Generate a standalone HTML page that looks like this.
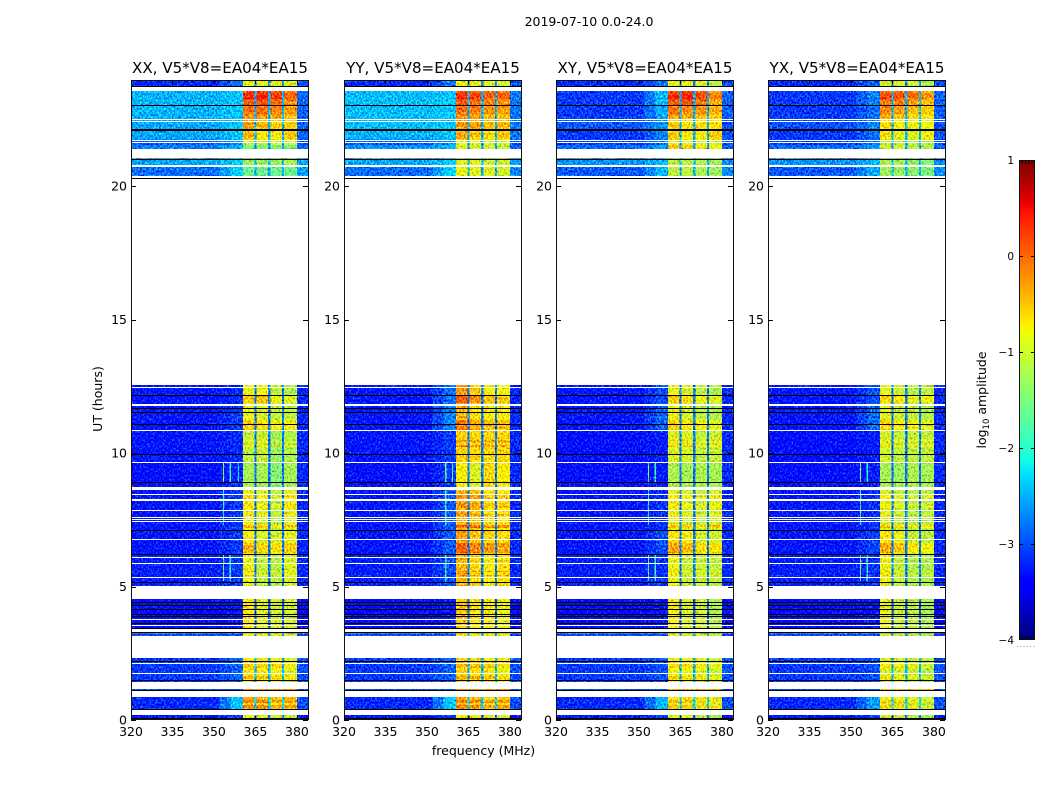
<!DOCTYPE html>
<html>
<head>
<meta charset="utf-8">
<title>2019-07-10 spectrograms</title>
<style>
html,body{margin:0;padding:0;background:#fff;}
#chart{display:block;width:1050px;height:800px;font-family:"DejaVu Sans","Liberation Sans",sans-serif;}
text{font-family:"DejaVu Sans","Liberation Sans",sans-serif;fill:#000;}
</style>
</head>
<body>
<svg id="chart" xmlns="http://www.w3.org/2000/svg" width="1050" height="800" viewBox="0 0 1050 800">
  <defs>
    <filter id="speckle" x="0" y="0" width="1" height="1" color-interpolation-filters="sRGB">
      <feTurbulence type="fractalNoise" baseFrequency="0.62 0.48" numOctaves="1" seed="7" result="n"/>
      <feColorMatrix in="n" type="matrix" values="0.5 0 0 0 0.25  1.5 0 0 0 -0.25  0.5 0 0 0 0.25  0 0 0 0 1" result="m"/>
      <feComposite in="SourceGraphic" in2="m" operator="arithmetic" k1="0" k2="1" k3="1" k4="-0.5"/>
    </filter>
  </defs>
  <text x="589" y="26" font-size="12.5" text-anchor="middle">2019-07-10 0.0-24.0</text>
  <g id="panels"></g>
  <text x="483.5" y="755" font-size="12.5" text-anchor="middle">frequency (MHz)</text>
  <text transform="translate(102,399) rotate(-90)" font-size="12.5" text-anchor="middle">UT (hours)</text>
  <g id="colorbar"></g>
  <text transform="translate(986,400) rotate(-90)" font-size="12.5" text-anchor="middle">log<tspan font-size="8.5" dy="3">10</tspan><tspan dy="-3"> amplitude</tspan></text>
</svg>
<script>
// ---- chart data (hours, MHz, log10 amplitude) ----
const panelTitles = ["XX, V5*V8=EA04*EA15","YY, V5*V8=EA04*EA15","XY, V5*V8=EA04*EA15","YX, V5*V8=EA04*EA15"];
const xTickValues = [320,335,350,365,380];
const yTickValues = [0,5,10,15,20];
const colorTickValues = [1,0,-1,-2,-3,-4];

// time segment [top hour, bottom hour]
const segmentHours = [
 [24.0,23.69],[23.56,23.02],[23.02,22.52],[22.52,22.13],[22.13,21.74],[21.74,21.54],[21.54,21.37],
 [21.03,20.73],[20.73,20.36],[12.55,11.85],[11.85,10.86],[10.86,9.66],[9.66,8.71],[8.71,7.10],
 [7.10,6.22],[6.22,5.02],[4.53,3.34],[3.24,3.15],[2.33,1.43],[1.16,1.10],[0.86,0.41],[0.20,0]
];

// per segment: background, ramp, subband 1..4, high edge
const xxLevels = [
 [-3.2,-2.8,-0.85,-0.85,-0.9,-1.0,-3.0],[-2.5,-2.4,0.15,0.2,0.05,-0.15,-2.9],[-2.5,-2.4,-0.1,-0.1,-0.2,-0.35,-2.9],
 [-2.55,-2.4,-0.35,-0.5,-0.6,-0.6,-2.9],[-2.55,-2.4,-0.5,-0.8,-0.8,-0.6,-2.9],[-2.95,-2.7,-1,-1,-1,-1,-3],
 [-2.75,-2.5,-1.5,-1.5,-1.5,-1.5,-2.9],[-2.55,-2.35,-1.3,-1.3,-1.3,-1.2,-2.6],[-2.85,-2.35,-1.6,-1.6,-1.6,-1.6,-2.6],
 [-3.3,-3.2,-0.85,-0.8,-1.1,-1.2,-3.2],[-3.3,-3.1,-0.85,-0.95,-1.1,-1.1,-3.2],[-3.3,-3.2,-1.1,-1.05,-1.3,-1.2,-3.2],
 [-3.35,-3.2,-1.25,-1.25,-1.45,-1.25,-3.2],[-3.3,-3.1,-0.85,-0.95,-1.15,-0.9,-3.2],[-3.3,-3.1,-0.75,-0.95,-1.0,-0.9,-3.2],
 [-3.25,-3.1,-0.85,-1.1,-1.15,-0.95,-3.2],[-3.4,-3.3,-0.7,-0.9,-1.0,-1.0,-3.4],[-3.0,-3.0,-0.8,-0.9,-0.9,-1,-3.1],
 [-3.1,-2.9,-0.7,-0.75,-0.8,-0.95,-3.0],[-3,-3,-0.1,-0.1,-0.1,-0.1,-3],[-3.2,-2.4,-0.35,-0.4,-0.55,-0.5,-3.0],[-3.3,-3.1,-0.9,-0.9,-1,-1.1,-3.3]
];
const yyLevels = [
 [-3.2,-2.8,-0.85,-0.85,-0.9,-1.0,-3.0],[-2.45,-2.4,0.15,0.05,-0.1,-0.15,-2.8],[-2.45,-2.4,-0.1,-0.2,-0.3,-0.35,-2.8],
 [-2.45,-2.4,-0.3,-0.4,-0.5,-0.5,-2.8],[-2.5,-2.4,-0.4,-0.6,-0.7,-0.6,-2.8],[-2.95,-2.7,-0.9,-0.9,-1,-1,-3],
 [-2.65,-2.45,-0.9,-1.0,-1.0,-1.1,-2.9],[-2.55,-2.35,-0.9,-0.9,-1.0,-1.0,-2.6],[-2.85,-2.35,-0.8,-0.9,-0.9,-1.0,-2.7],
 [-3.3,-2.85,-0.25,-0.5,-0.75,-0.8,-3.2],[-3.3,-2.75,-0.4,-0.65,-0.75,-0.75,-3.2],[-3.3,-3.1,-0.55,-0.6,-0.6,-0.6,-3.2],
 [-3.35,-3.1,-0.75,-0.95,-0.6,-0.75,-3.2],[-3.3,-2.95,-0.4,-0.5,-0.7,-0.7,-3.2],[-3.3,-2.95,-0.3,-0.5,-0.6,-0.65,-3.2],
 [-3.25,-3.0,-0.4,-0.6,-0.75,-0.65,-3.2],[-3.4,-3.3,-0.5,-0.7,-0.75,-0.85,-3.4],[-3.0,-3.0,-0.7,-0.8,-0.8,-0.9,-3.1],
 [-3.1,-2.9,-0.6,-0.65,-0.7,-0.85,-3.0],[-3,-3,-0.1,-0.1,-0.1,-0.1,-3],[-3.2,-2.4,-0.35,-0.4,-0.55,-0.5,-3.0],[-3.3,-3.1,-0.8,-0.8,-0.9,-1.0,-3.3]
];
const xyLevels = [
 [-3.2,-2.8,-0.85,-0.85,-0.9,-1.1,-3.0],[-3.1,-2.45,0.15,0.2,0.0,-0.3,-2.9],[-3.1,-2.55,-0.15,-0.25,-0.3,-0.45,-2.9],
 [-2.95,-2.65,-0.6,-0.7,-0.7,-0.7,-3.0],[-3.1,-2.75,-0.6,-0.8,-0.8,-0.6,-3.0],[-3.1,-2.85,-0.9,-0.9,-1,-1,-3],
 [-2.85,-2.6,-0.5,-0.55,-0.7,-0.8,-2.9],[-2.65,-2.45,-1.1,-1.1,-1.2,-1.3,-2.7],[-2.95,-2.5,-1.1,-1.1,-1.2,-1.3,-2.7],
 [-3.3,-3.0,-0.85,-0.95,-1.1,-1.2,-3.2],[-3.3,-2.9,-0.85,-1.0,-1.1,-1.2,-3.2],[-3.35,-3.25,-0.95,-0.95,-1.1,-1.05,-3.2],
 [-3.35,-3.25,-1.2,-1.25,-1.2,-1.25,-3.2],[-3.3,-3.15,-0.9,-1.0,-1.1,-1.0,-3.2],[-3.3,-3.0,-0.65,-0.8,-1.0,-1.0,-3.2],
 [-3.25,-3.15,-0.85,-1.05,-1.05,-1.1,-3.2],[-3.4,-3.3,-0.75,-0.95,-1.0,-1.2,-3.4],[-3.0,-3.0,-0.9,-1,-1,-1.1,-3.1],
 [-3.1,-3.0,-0.8,-0.85,-0.9,-1.05,-3.0],[-3,-3,-0.3,-0.3,-0.3,-0.3,-3],[-3.2,-2.5,-0.7,-0.7,-0.8,-0.95,-3.0],[-3.3,-3.1,-0.95,-0.95,-1.1,-1.2,-3.3]
];
const yxLevels = [
 [-3.2,-2.9,-0.95,-0.95,-1.0,-1.2,-3.0],[-3.1,-2.75,0.0,-0.05,-0.2,-0.4,-2.9],[-3.1,-2.85,-0.25,-0.35,-0.5,-0.6,-2.9],
 [-3.0,-2.75,-0.7,-0.8,-0.85,-0.9,-3.0],[-3.1,-2.85,-0.75,-0.95,-1.0,-0.85,-3.0],[-3.1,-2.85,-1.1,-1.1,-1.2,-1.2,-3],
 [-2.85,-2.6,-1.0,-1.0,-1.1,-1.2,-2.9],[-2.65,-2.45,-1.2,-1.25,-1.35,-1.45,-2.7],[-2.95,-2.55,-1.3,-1.3,-1.4,-1.5,-2.7],
 [-3.3,-3.0,-0.9,-1.0,-1.15,-1.1,-3.2],[-3.3,-2.85,-0.9,-1.05,-1.1,-1.2,-3.2],[-3.35,-3.25,-1.0,-1.1,-1.1,-1.1,-3.2],
 [-3.35,-3.25,-1.25,-1.3,-1.2,-1.25,-3.2],[-3.3,-3.15,-0.95,-1.1,-1.2,-1.15,-3.2],[-3.3,-3.05,-0.7,-0.85,-1.05,-1.15,-3.2],
 [-3.25,-3.15,-0.85,-1.1,-1.2,-1.2,-3.2],[-3.4,-3.3,-0.85,-1.05,-1.1,-1.25,-3.4],[-3.0,-3.0,-1,-1.1,-1.1,-1.2,-3.1],
 [-3.1,-3.0,-0.95,-1.0,-1.05,-1.2,-3.0],[-3,-3,-0.4,-0.4,-0.4,-0.4,-3],[-3.2,-2.6,-0.8,-0.85,-0.95,-1.15,-3.0],[-3.3,-3.1,-1.0,-1.0,-1.15,-1.3,-3.3]
];
const panelLevels = [xxLevels,yyLevels,xyLevels,yxLevels];
const dividerLevels = [-2.7,-2.5,-2.5,-2.5,-2.5,-2.6,-2.6,-2.4,-2.5,-2.8,-2.8,-2.8,-2.8,-2.8,-2.8,-2.8,-3.0,-2.6,-2.5,-2.0,-2.3,-2.9];

// brighter/dimmer rows across the subbands [top hour, bottom hour, level change]
const bandRowShifts = [
 [23.48,23.26,0.2],[23.18,23.07,-0.1],[22.96,22.77,0.1],[22.66,22.55,-0.15],[22.36,22.21,0.1],[21.99,21.84,0.15],
 [12.17,11.87,0.3],[11.24,10.86,0.3],[10.49,10.41,0.3],[10.30,10.22,0.3],[8.43,8.24,0.2],[8.13,7.94,0.2],[7.74,7.66,0.2],
 [7.30,7.20,0.45],[6.63,6.25,0.35],[5.58,5.54,0.3],[5.43,5.39,0.3],
 [2.17,1.95,0.2],[1.65,1.54,0.3],[0.75,0.64,0.25],[0.64,0.56,-0.2],[0.56,0.45,0.25]
];

// horizontal masks shared by all panels [top hour, bottom hour]
const gapHours = [
 [23.56,23.69],[22.48,22.52],[22.40,22.43],[21.70,21.74],[21.62,21.65],[21.03,21.37],[20.73,20.79],[12.55,20.36],
 [12.43,12.49],[11.77,11.85],[10.82,10.86],[9.63,9.66],[8.63,8.71],[8.44,8.48],[8.22,8.26],[7.83,7.87],[7.58,7.61],
 [7.49,7.53],[7.42,7.45],[6.74,6.78],[6.07,6.10],[5.84,5.88],[5.32,5.36],[4.53,5.02],[3.73,3.77],[3.51,3.55],
 [3.26,3.43],[2.33,3.15],[2.10,2.12],[1.73,1.75],[1.16,1.43],[0.86,1.10],[0.20,0.39]
];
const flaggedHours = [
 23.73,23.02,22.13,22.08,21.02,20.30,12.18,11.70,11.55,11.07,9.98,8.91,7.10,6.22,5.16,
 4.43,4.30,4.15,3.97,3.90,3.65,3.44,3.30,2.22,1.50,1.13,0.41,0.07
];

// narrow-band interference per panel [MHz, top hour, bottom hour, level]
const xxInterference = [[353.2,9.66,8.92,-1.4],[355.7,9.66,8.92,-1.9],[358.6,9.6,8.92,-2.2],[353.2,8.7,7.3,-2.0],[353.2,6.2,5.2,-1.6],[355.7,6.2,5.2,-1.9]];
const yyInterference = [[356.6,9.66,8.92,-1.6],[359,9.6,8.92,-1.7],[356.6,8.7,7.3,-1.8],[356.6,6.2,5.2,-1.9]];
const xyInterference = [[353.2,9.66,8.92,-1.4],[355.7,9.66,8.92,-1.9],[353.2,8.7,7.3,-1.9],[353.2,6.2,5.2,-1.6],[355.7,6.2,5.2,-1.9]];
const yxInterference = [[353.2,9.66,8.92,-1.4],[355.7,9.66,8.92,-2.0],[353.2,8.7,7.3,-1.8],[353.2,6.2,5.2,-1.6],[355.7,6.2,5.2,-2.0]];
const panelInterference = [xxInterference,yyInterference,xyInterference,yxInterference];

// band edges in MHz
const bgStart = 320, rampStart = 352, rampEnd = 356, bandStart = 360.5, bandEnd = 380, freqEnd = 384;
const subbandEdges = [[360.5,364.6],[365.4,369.6],[370.4,374.6],[375.4,380]];
const dividerEdges = [[364.6,365.4],[369.6,370.4],[374.6,375.4]];

// ---- axes ----
const NS = "http://www.w3.org/2000/svg";
const panelLefts = [131,344,556,768];
const panelWidth = 177;
const plotTop = 80, plotBottom = 720;
function xAxis(left, mhz){ return left + (mhz - 320) * panelWidth / 64; }
function yAxis(hour){ return plotBottom - hour * 26.7; }
function jet(v){
  const t = Math.max(0, Math.min(1, (v + 4) / 5));
  const interp = (pts) => {
    for (let i = 1; i < pts.length; i++) {
      if (t <= pts[i][0]) {
        const f = (t - pts[i-1][0]) / (pts[i][0] - pts[i-1][0]);
        return pts[i-1][1] + f * (pts[i][1] - pts[i-1][1]);
      }
    }
    return pts[pts.length-1][1];
  };
  const r = interp([[0,0],[0.35,0],[0.66,1],[0.89,1],[1,0.5]]);
  const g = interp([[0,0],[0.125,0],[0.375,1],[0.64,1],[0.91,0],[1,0]]);
  const b = interp([[0,0.5],[0.11,1],[0.34,1],[0.65,0],[1,0]]);
  return "rgb(" + Math.round(r*255) + "," + Math.round(g*255) + "," + Math.round(b*255) + ")";
}
function make(parent, tag, attrs){
  const el = document.createElementNS(NS, tag);
  for (const k in attrs) el.setAttribute(k, attrs[k]);
  parent.appendChild(el);
  return el;
}

const panelsRoot = document.getElementById("panels");
panelLefts.forEach(function(left, p){
  const panel = make(panelsRoot, "g", {});
  
  
  const clipId = "clip" + p;
  const clip = make(make(panel, "defs", {}), "clipPath", {id: clipId});
  make(clip, "rect", {x: left, y: plotTop, width: panelWidth, height: plotBottom - plotTop});
  const plot = make(panel, "g", {"clip-path": "url(#" + clipId + ")"});
  
  
  const cells = make(plot, "g", {filter: "url(#speckle)", "shape-rendering": "crispEdges"});
  function cell(f0, f1, h0, h1, level){
    const x0 = xAxis(left, f0), x1 = xAxis(left, f1), y0 = yAxis(h0), y1 = yAxis(h1);
    const r = make(cells, "rect", {x: x0, y: y0, width: x1 - x0, height: y1 - y0, fill: jet(level)});
    
    
  }
  panelLevels[p].forEach(function(row, s){
    const h0 = segmentHours[s][0], h1 = segmentHours[s][1];
    cell(bgStart, rampStart, h0, h1, row[0]);
    cell(rampStart, rampEnd, h0, h1, (row[0] + row[1]) / 2);
    cell(rampEnd, bandStart, h0, h1, row[1]);
    subbandEdges.forEach(function(edge, b){ cell(edge[0], edge[1], h0, h1, row[2 + b]); });
    dividerEdges.forEach(function(edge){ cell(edge[0], edge[1], h0, h1, dividerLevels[s]); });
    cell(bandEnd, freqEnd, h0, h1, row[6]);
  });
  bandRowShifts.forEach(function(shift){
    const s = segmentHours.findIndex(function(seg){ return shift[0] <= seg[0] && shift[0] > seg[1]; });
    if (s < 0) return;
    subbandEdges.forEach(function(edge, b){
      cell(edge[0], edge[1], shift[0], shift[1], panelLevels[p][s][2 + b] + shift[2]);
    });
  });
  panelInterference[p].forEach(function(m){ cell(m[0], m[0] + 0.4, m[1], m[2], m[3]); });
  gapHours.forEach(function(g){
    const y0 = Math.round(yAxis(g[1])), y1 = Math.round(yAxis(g[0]));
    const r = make(plot, "rect", {x: left, y: y0, width: panelWidth, height: Math.max(1, y1 - y0), fill: "#fff", "shape-rendering": "crispEdges"});
    
    
  });
  flaggedHours.forEach(function(h){
    const r = make(plot, "rect", {x: left, y: Math.round(yAxis(h)), width: panelWidth, height: 1, fill: "#000", "shape-rendering": "crispEdges"});
    
    
  });
  const frame = make(panel, "rect", {x: left + 0.5, y: plotTop + 0.5, width: panelWidth, height: plotBottom - plotTop - 1, fill: "none", stroke: "#111", "stroke-width": 1, "shape-rendering": "crispEdges"});
  
  
  xTickValues.forEach(function(v){
    const x = Math.round(xAxis(left, v)) + 0.5;
    [[plotBottom, plotBottom - 4],[plotTop, plotTop + 4]].forEach(function(s){
      const t = make(panel, "line", {x1: x, x2: x, y1: s[0], y2: s[1], stroke: "#000", "stroke-width": 1});
      
      
    });
    const l = make(panel, "text", {x: xAxis(left, v), y: 736, "font-size": 12.5, "text-anchor": "middle"});
    
    
    l.textContent = String(v);
  });
  yTickValues.forEach(function(v){
    const y = Math.round(yAxis(v)) + 0.5;
    [[left, left + 5],[left + panelWidth, left + panelWidth - 5]].forEach(function(s){
      const t = make(panel, "line", {x1: s[0], x2: s[1], y1: y, y2: y, stroke: "#000", "stroke-width": 1});
      
      
    });
    const l = make(panel, "text", {x: left - 4, y: yAxis(v) + 4.5, "font-size": 12.5, "text-anchor": "end"});
    
    
    l.textContent = String(v);
  });
  const title = make(panel, "text", {x: left + 89, y: 73, "font-size": 15.1, "text-anchor": "middle"});
  
  
  title.textContent = panelTitles[p];
});

// ---- colorbar ----
const cbLeft = 1019, cbWidth = 16, cbTop = 160, cbBottom = 640;
function cbAxis(v){ return cbBottom - (v + 4) * (cbBottom - cbTop) / 5; }
const cbRoot = document.getElementById("colorbar");
for (let y = cbTop; y < cbBottom; y += 2) {
  const v = 1 - (y - cbTop + 1) * 5 / (cbBottom - cbTop);
  const r = make(cbRoot, "rect", {x: cbLeft, y: y, width: cbWidth, height: 2, fill: jet(v), "shape-rendering": "crispEdges"});
  
  
}
const cbFrame = make(cbRoot, "rect", {x: cbLeft + 0.5, y: cbTop + 0.5, width: cbWidth - 1, height: cbBottom - cbTop - 1, fill: "none", stroke: "#111", "shape-rendering": "crispEdges"});


colorTickValues.forEach(function(v){
  const y = Math.round(cbAxis(v)) + 0.5;
  if (v > -4 && v < 1) {
    [[cbLeft, cbLeft + 4],[cbLeft + cbWidth, cbLeft + cbWidth - 4]].forEach(function(s){
      const t = make(cbRoot, "line", {x1: s[0], x2: s[1], y1: y, y2: y, stroke: "#000"});
      
      
    });
  }
  const l = make(cbRoot, "text", {x: cbLeft - 5, y: cbAxis(v) + 4, "font-size": 10.5, "text-anchor": "end"});
  
  
  l.textContent = v < 0 ? "\u2212" + Math.abs(v) : String(v);
});
[1,2,3,4].forEach(function(i){
  const x = cbLeft + i * cbWidth / 5;
  [[cbTop, cbTop + 4],[cbBottom, cbBottom - 4]].forEach(function(s){
    const t = make(cbRoot, "line", {x1: x, x2: x, y1: s[0], y2: s[1], stroke: "#000", "stroke-width": 0.8});
    
    
  });
});
[0,1,2,3,4,5].forEach(function(i){
  const d = make(cbRoot, "rect", {x: cbLeft - 2 + i * 3.3, y: 646, width: 1, height: 1, fill: "#999"});
  
  
});
</script>
</body>
</html>
